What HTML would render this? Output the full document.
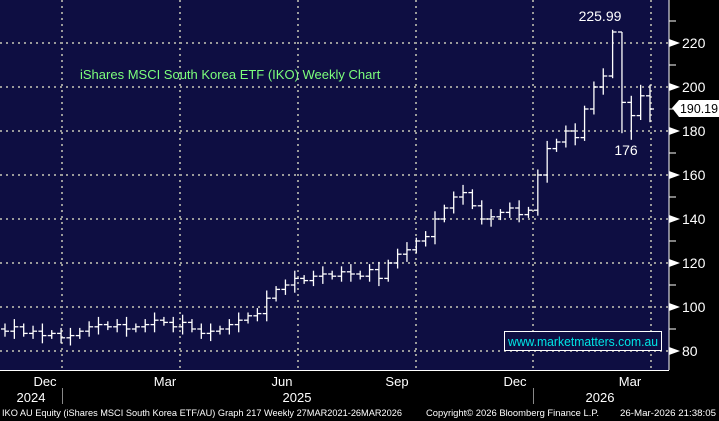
<!DOCTYPE html><html><head><style>body{margin:0;background:#000}svg{display:block}</style></head><body>
<svg id="s" width="719" height="421" xmlns="http://www.w3.org/2000/svg" font-family="Liberation Sans, sans-serif">
<rect width="719" height="421" fill="#000"/>
<rect x="0" y="0" width="669" height="370" fill="#0e0e42"/>
<g id="grid" stroke="#9a9a9a" stroke-width="2" stroke-dasharray="2,4"></g>
<g id="bars" stroke="#fff" stroke-width="1.3" fill="none"></g>
<line x1="669" y1="0" x2="669" y2="370" stroke="#fff"/>
<line x1="0" y1="370.5" x2="669" y2="370.5" stroke="#fff"/>
<g id="yax" fill="#fff" font-size="14"></g>
<text x="80" y="79" fill="#7cff7c" font-size="13">iShares MSCI South Korea ETF (IKO) Weekly Chart</text>
<rect x="504.5" y="331.5" width="157" height="19" fill="#0e0e42" stroke="#fff"/>
<text x="583" y="346" fill="#00e5e5" font-size="12.5" text-anchor="middle" textLength="150" lengthAdjust="spacingAndGlyphs">www.marketmatters.com.au</text>
<text x="600" y="21" fill="#fff" font-size="14" text-anchor="middle">225.99</text>
<text x="626" y="155" fill="#fff" font-size="14" text-anchor="middle">176</text>
<polygon points="672,108 679,100 719,100 719,117 679,117" fill="#fff"/>
<text x="680" y="113" fill="#000" font-size="13" textLength="38" lengthAdjust="spacingAndGlyphs">190.19</text>
<g fill="#fff" font-size="13" text-anchor="middle">
<text x="45" y="386">Dec</text><text x="165" y="386">Mar</text><text x="282" y="386">Jun</text><text x="397" y="386">Sep</text><text x="515" y="386">Dec</text><text x="630" y="386">Mar</text>
<text x="31" y="402">2024</text><text x="297" y="402">2025</text><text x="600" y="402">2026</text>
</g>
<line x1="62.5" y1="388" x2="62.5" y2="404" stroke="#888"/><line x1="533.5" y1="388" x2="533.5" y2="404" stroke="#888"/>
<g fill="#fff" font-size="9.5"><text x="2" y="416" textLength="400" lengthAdjust="spacingAndGlyphs">IKO AU Equity (iShares MSCI South Korea ETF/AU) Graph 217 Weekly 27MAR2021-26MAR2026</text>
<text x="426" y="416" textLength="173" lengthAdjust="spacingAndGlyphs">Copyright© 2026 Bloomberg Finance L.P.</text><text x="620" y="416" textLength="96" lengthAdjust="spacingAndGlyphs">26-Mar-2026 21:38:05</text></g>
</svg>
<script>
var ns="http://www.w3.org/2000/svg";
function el(p,t,a){var e=document.createElementNS(ns,t);for(var k in a)e.setAttribute(k,a[k]);p.appendChild(e);return e;}
function Y(v){return 87+(200-v)*2.2;}
var g=document.getElementById('grid'),ya=document.getElementById('yax');
for(var v=80;v<=220;v+=20){el(g,'line',{x1:0,x2:669,y1:Y(v),y2:Y(v)});}
[62,180,298,416,533,651].forEach(function(x){el(g,'line',{x1:x,x2:x,y1:0,y2:370});});
for(var v=80;v<=230;v+=10){var y=Y(v);el(ya,'line',{x1:669,x2:676,y1:y,y2:y,stroke:'#fff'});
 if(v%20==0){el(ya,'polygon',{points:'669,'+(y-4)+' 680,'+y+' 669,'+(y+4)});var t=el(ya,'text',{x:682,y:y+5});t.textContent=v;}}
var c=[90,89,91,88,89,87,88,86,87,89,91,92,91,92,90,91,92,94,93,91,93,90,88,89,90,92,94,96,97,104,108,110,113,112,114,115,114,116,115,114,117,113,120,124,126,130,132,140,145,150,152,146,140,141,143,145,142,144,160,172,175,180,177,190,200,205,225,193,187,196,190];
var n=c.length,b=document.getElementById('bars');
for(var i=1;i<n;i++){var x=5+(i-1)*645/(n-2),o=c[i-1],cl=c[i];
 var hi=Math.max(o,cl)+1.5+(i%3),lo=Math.min(o,cl)-1.5-((i*7)%3);
 if(i==n-5){hi=226;lo=204;}if(i==n-4){hi=225;lo=179;}if(i==n-3){hi=196;lo=176;}if(i==n-2){hi=201;lo=185;}if(i==n-1){hi=201;lo=184;}
 el(b,'line',{x1:x,x2:x,y1:Y(hi),y2:Y(lo)});el(b,'line',{x1:x-4,x2:x,y1:Y(o),y2:Y(o)});el(b,'line',{x1:x,x2:x+4,y1:Y(cl),y2:Y(cl)});}
</script>
</body></html>
